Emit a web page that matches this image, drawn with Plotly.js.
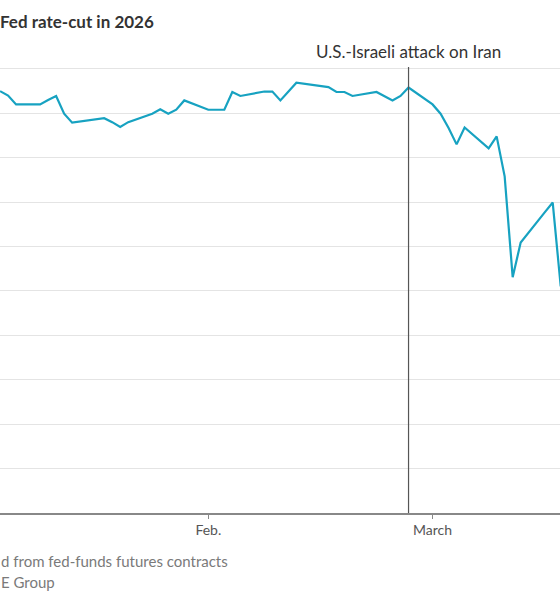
<!DOCTYPE html>
<html>
<head>
<meta charset="utf-8">
<script src="https://cdn.plot.ly/plotly-3.0.1.min.js"></script>
<style>
  html, body { margin: 0; padding: 0; background: #fff; overflow: hidden; }
  #chart { width: 560px; height: 600px; }
</style>
</head>
<body>
<div id="chart"></div>
<script>
// Dates as positioned on the chart's time axis
const dates = [
  '2026-01-06','2026-01-07','2026-01-08','2026-01-11','2026-01-12','2026-01-13','2026-01-14','2026-01-15',
  '2026-01-19','2026-01-20','2026-01-21','2026-01-22','2026-01-25','2026-01-26','2026-01-27','2026-01-28','2026-01-29',
  '2026-02-01','2026-02-02','2026-02-03','2026-02-04','2026-02-05','2026-02-08','2026-02-09','2026-02-10','2026-02-11','2026-02-12',
  '2026-02-16','2026-02-17','2026-02-18','2026-02-19','2026-02-22','2026-02-23','2026-02-24','2026-02-25','2026-02-26',
  '2026-03-01','2026-03-02','2026-03-03','2026-03-04','2026-03-05','2026-03-08','2026-03-09','2026-03-10','2026-03-11','2026-03-12',
  '2026-03-15','2026-03-16','2026-03-17'
];
// Implied probability of a Fed rate cut in 2026 (%)
const probability = [
  95.0, 94.0, 92.0, 92.0, 93.0, 93.9, 89.9, 87.9,
  88.9, 88.0, 86.9, 88.0, 89.9, 90.9, 89.9, 90.8, 92.9,
  90.8, 90.8, 90.8, 94.8, 93.9, 94.9, 94.9, 92.9, 94.9, 96.9,
  95.9, 94.8, 94.8, 93.9, 94.8, 93.8, 92.9, 93.9, 95.8,
  92.0, 89.9, 86.7, 83.0, 86.8, 82.1, 84.8, 75.8, 53.1, 60.9,
  67.7, 69.9, 51.0
];
const tickDates = ['2026-02-01', '2026-03-01'];
const tickLabels = ['Feb.', 'March'];
const eventDate = '2026-02-26';
const eventLabel = 'U.S.-Israeli attack on Iran';
const titleText = 'Fed rate-cut in 2026';
const noteText = 'd from fed-funds futures contracts';
const sourceText = 'E Group';

const FONT = 'Lato, "Liberation Sans", sans-serif';

const trace = {
  x: dates, y: probability, type: 'scatter', mode: 'lines',
  line: { color: '#17a2c1', width: 2.2 },
  hoverinfo: 'skip'
};

const layout = {
  width: 560, height: 600,
  margin: { l: 0, r: 0, t: 59.6, b: 86.5 },
  paper_bgcolor: '#fff', plot_bgcolor: '#fff',
  showlegend: false,
  font: { family: FONT, color: '#444' },
  xaxis: {
    type: 'date',
    range: ['2026-01-05 23:50', '2026-03-16 21:50'],
    tickvals: tickDates, ticktext: tickLabels,
    showgrid: false, zeroline: false,
    showline: true, linecolor: '#888', linewidth: 1.5,
    ticks: 'outside', ticklen: 4, tickwidth: 1, tickcolor: '#888',
    tickfont: { family: FONT, size: 14, color: '#555' },
    fixedrange: true
  },
  yaxis: {
    range: [0, 102],
    dtick: 10, tick0: 0,
    showgrid: true, gridcolor: '#e4e4e4', gridwidth: 1,
    zeroline: false, showline: false, showticklabels: false, ticks: '',
    fixedrange: true
  },
  shapes: [{
    type: 'line', xref: 'x', yref: 'y',
    x0: eventDate, x1: eventDate, y0: 0, y1: 100.4,
    line: { color: '#555', width: 1.2 }
  }],
  annotations: [
    { text: '<b>' + titleText + '</b>', xref: 'paper', yref: 'paper', x: -0.003, y: 1.0855,
      xanchor: 'left', yanchor: 'middle', showarrow: false,
      font: { family: FONT, size: 17, color: '#333' } },
    { text: eventLabel, xref: 'x', yref: 'paper', x: eventDate, y: 1.0178,
      xanchor: 'center', yanchor: 'middle', showarrow: false,
      font: { family: FONT, size: 17, color: '#333' } },
    { text: noteText, xref: 'paper', yref: 'paper', x: -0.002, y: -0.107,
      xanchor: 'left', yanchor: 'middle', showarrow: false,
      font: { family: FONT, size: 15, color: '#7a7a7a' } },
    { text: sourceText, xref: 'paper', yref: 'paper', x: -0.002, y: -0.153,
      xanchor: 'left', yanchor: 'middle', showarrow: false,
      font: { family: FONT, size: 15, color: '#7a7a7a' } }
  ]
};

Plotly.newPlot('chart', [trace], layout, { displayModeBar: false, staticPlot: true });
</script>
</body>
</html>
